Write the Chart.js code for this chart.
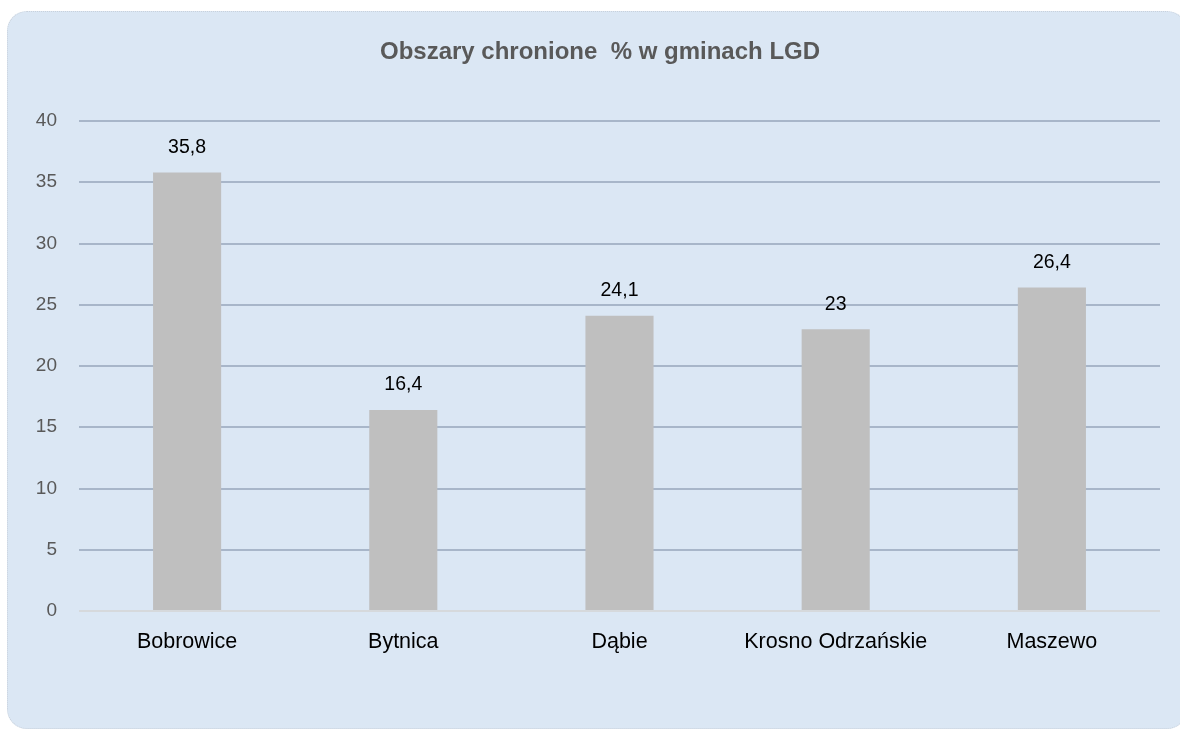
<!DOCTYPE html>
<html>
<head>
<meta charset="utf-8">
<script src="https://cdn.jsdelivr.net/npm/chart.js@4.4.0/dist/chart.umd.min.js"></script>
<style>
  html, body { margin: 0; padding: 0; background: #fff; }
  #panel {
    position: absolute; left: 7px; top: 11px; width: 1178px; height: 716px;
    background: #dbe7f4; border: 1px dotted #c9d1db; border-radius: 20px;
  }
  #wrap { position: absolute; left: 0; top: 0; width: 1180px; height: 729px; }
</style>
</head>
<body>
<div id="panel"></div>
<div id="wrap"><canvas id="chart" width="1180" height="729"></canvas></div>
<script>
// values
const gminy = ['Bobrowice', 'Bytnica', 'Dąbie', 'Krosno Odrzańskie', 'Maszewo'];
const procent = [35.8, 16.4, 24.1, 23, 26.4];
const tytul = 'Obszary chronione  % w gminach LGD';

const font = "'Liberation Sans', Arial, sans-serif";

// values above the bars, comma as decimal separator
const etykiety = {
  id: 'etykiety',
  afterDatasetsDraw(chart) {
    const ctx = chart.ctx;
    const meta = chart.getDatasetMeta(0);
    ctx.save();
    ctx.font = '19.5px ' + font;
    ctx.fillStyle = '#000';
    ctx.textAlign = 'center';
    ctx.textBaseline = 'middle';
    meta.data.forEach((bar, i) => {
      ctx.fillText(String(procent[i]).replace('.', ','), bar.x, bar.y - 25);
    });
    ctx.restore();
  }
};

// title centred on the whole panel, not on the plot
const naglowek = {
  id: 'naglowek',
  afterDraw(chart) {
    const ctx = chart.ctx;
    ctx.save();
    ctx.font = 'bold 24px ' + font;
    ctx.fillStyle = '#595959';
    ctx.textAlign = 'center';
    ctx.textBaseline = 'middle';
    ctx.fillText(tytul, chart.width / 2 + 10, 52);
    ctx.restore();
  }
};

new Chart(document.getElementById('chart'), {
  type: 'bar',
  data: {
    labels: gminy,
    datasets: [{
      data: procent,
      backgroundColor: '#bfbfbf',
      barPercentage: 0.63,
      categoryPercentage: 0.5
    }]
  },
  options: {
    responsive: false,
    animation: false,
    layout: { padding: { left: 20, right: 20, top: 121, bottom: 0 } },
    plugins: {
      legend: { display: false },
      tooltip: { enabled: false },
      title: { display: false }
    },
    scales: {
      x: {
        grid: { display: false, drawTicks: false },
        border: { display: false },
        ticks: { color: '#000', font: { family: font, size: 21.5 }, padding: 18, maxRotation: 0 },
        afterFit(s) { s.height = 118; }
      },
      y: {
        min: 0, max: 40,
        ticks: { stepSize: 5, color: '#595959', font: { family: font, size: 19 }, padding: 22 },
        grid: {
          drawTicks: false,
          lineWidth: 2,
          color: c => c.tick && c.tick.value === 0 ? '#d6d9dc' : '#a8b6c9'
        },
        border: { display: false },
        afterFit(s) { s.width = 59; }
      }
    }
  },
  plugins: [etykiety, naglowek]
});
</script>
</body>
</html>
